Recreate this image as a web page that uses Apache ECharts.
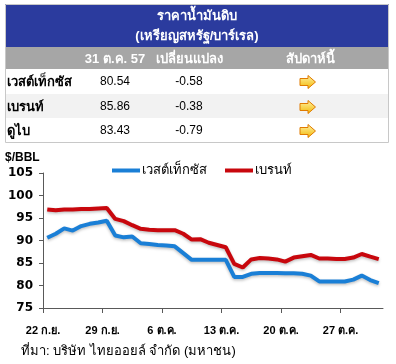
<!DOCTYPE html>
<html>
<head>
<meta charset="utf-8">
<script src="https://cdn.jsdelivr.net/npm/echarts@6/dist/echarts.min.js"></script>
<style>
html,body{margin:0;padding:0;background:#fff;}
#c{width:396px;height:364px;}
</style>
</head>
<body>
<div id="c"></div>
<script>
// ---- data ----
var tableTitle = ['ราคาน้ำมันดิบ', '(เหรียญสหรัฐ/บาร์เรล)'];
var tableHeaders = ['31 ต.ค. 57', 'เปลี่ยนแปลง', 'สัปดาห์นี้'];
var tableNames = ['เวสต์เท็กซัส', 'เบรนท์', 'ดูไบ'];
var tablePrices = ['80.54', '85.86', '83.43'];
var tableChanges = ['-0.58', '-0.38', '-0.79'];

// day offsets from 22 Sep 2014 (daily, calendar)
var days = [0,1,2,3,4,5,6,7,8,9,10,11,12,13,14,15,16,17,18,19,20,21,22,23,24,25,26,27,28,29,30,31,32,33,34,35,36,37,38,39];
var wti = [90.6,91.5,92.7,92.2,93.2,93.7,94.0,94.4,91.1,90.7,90.9,89.4,89.2,89.0,88.9,88.7,87.2,85.7,85.7,85.7,85.7,85.7,81.9,81.9,82.6,82.8,82.8,82.8,82.7,82.7,82.6,82.2,80.9,80.9,80.9,80.9,81.3,82.2,81.2,80.54];
var brent = [96.9,96.7,96.9,96.9,97.0,97.0,97.1,97.2,94.8,94.3,93.4,92.6,92.4,92.3,92.3,92.3,91.5,90.2,90.3,89.5,89.0,88.5,84.8,84.0,85.8,86.1,86.0,85.8,85.3,86.2,86.5,86.8,86.0,86.0,85.9,85.9,86.2,87.0,86.4,85.86];
var seriesNames = ['เวสต์เท็กซัส', 'เบรนท์'];
var xTickDays = [0, 7, 14, 21, 28, 35];
var xTickLabels = ['22 ก.ย.', '29 ก.ย.', '6 ต.ค.', '13 ต.ค.', '20 ต.ค.', '27 ต.ค.'];
var yMin = 75, yMax = 105, yStep = 5;
var yUnit = '$/BBL';
var sourceText = 'ที่มา: บริษัท ไทยออยล์ จำกัด (มหาชน)';

// ---- chart ----
var FONT = 'Tahoma, "Liberation Sans", "Noto Sans", sans-serif';
var chart = echarts.init(document.getElementById('c'), null, {renderer: 'canvas'});

function pts(vals) {
  return days.map(function (d, i) { return [d + 0.5, vals[i]]; });
}

var graphics = [];
graphics.push({type: 'rect', shape: {x: 5, y: 4, width: 384, height: 43}, style: {fill: '#2b3b9e'}, silent: true});
graphics.push({type: 'rect', shape: {x: 5, y: 47, width: 384, height: 22}, style: {fill: '#a6a6a6'}, silent: true});
graphics.push({type: 'rect', shape: {x: 5, y: 94, width: 384, height: 24}, style: {fill: '#f2f2f2'}, silent: true});
graphics.push({type: 'rect', shape: {x: 5.5, y: 4.5, width: 383, height: 138}, style: {fill: null, stroke: '#c8c8c8', lineWidth: 1}, silent: true});
graphics.push({type: 'text', x: 197, y: 16, style: {text: tableTitle[0], fill: '#fff', font: 'bold 13px ' + FONT, align: 'center', verticalAlign: 'middle'}});
graphics.push({type: 'text', x: 197, y: 36, style: {text: tableTitle[1], fill: '#fff', font: 'bold 13px ' + FONT, align: 'center', verticalAlign: 'middle'}});
var colX = [115, 189, 310];
tableHeaders.forEach(function (h, i) {
  graphics.push({type: 'text', x: colX[i], y: 59, style: {text: h, fill: '#fff', font: 'bold 13px ' + FONT, align: 'center', verticalAlign: 'middle'}});
});
var rowY = [82, 107, 131];
tableNames.forEach(function (n, i) {
  graphics.push({type: 'text', x: 7, y: rowY[i], style: {text: n, fill: '#000', font: 'bold 13px ' + FONT, align: 'left', verticalAlign: 'middle'}});
  graphics.push({type: 'text', x: colX[0], y: rowY[i], style: {text: tablePrices[i], fill: '#000', font: '12px ' + FONT, align: 'center', verticalAlign: 'middle'}});
  graphics.push({type: 'text', x: colX[1], y: rowY[i], style: {text: tableChanges[i], fill: '#000', font: '12px ' + FONT, align: 'center', verticalAlign: 'middle'}});
  graphics.push({type: 'polygon', x: 300, y: rowY[i] - 6.5, shape: {points: [[0,3],[8,3],[8,0],[15.5,6.5],[8,13],[8,10],[0,10]]},
    style: {fill: new echarts.graphic.LinearGradient(0, 0, 0, 1, [{offset: 0, color: '#fff3a6'}, {offset: 1, color: '#f2b705'}]), stroke: '#e07b00', lineWidth: 1}});
});
graphics.push({type: 'text', x: 5, y: 158, style: {text: yUnit, fill: '#000', font: 'bold 12px ' + FONT, align: 'left', verticalAlign: 'middle'}});
graphics.push({type: 'text', x: 21, y: 351, style: {text: sourceText, fill: '#000', font: '13px ' + FONT, align: 'left', verticalAlign: 'middle'}});

chart.setOption({
  animation: false,
  backgroundColor: '#fff',
  textStyle: {fontFamily: FONT},
  grid: {left: 43, top: 173, right: 13, bottom: 56, containLabel: false},
  legend: {
    left: 107, top: 159, itemWidth: 28, itemHeight: 4, itemGap: 18, icon: 'rect',
    textStyle: {fontSize: 13, color: '#000', fontFamily: FONT, padding: [0, 0, 0, -3]},
    data: seriesNames
  },
  xAxis: {
    type: 'value', min: 0, max: 40,
    axisLine: {show: true, onZero: false, lineStyle: {color: '#595959', width: 1}},
    axisTick: {show: true, length: 5, customValues: xTickDays, lineStyle: {color: '#595959'}},
    axisLabel: {customValues: xTickDays, margin: 17, color: '#000', fontSize: 11, fontWeight: 'bold', fontFamily: FONT,
      formatter: function (v) { var i = xTickDays.indexOf(v); return i >= 0 ? xTickLabels[i] : ''; }},
    splitLine: {show: false}
  },
  yAxis: {
    type: 'value', min: yMin, max: yMax, interval: yStep,
    axisLine: {show: true, lineStyle: {color: '#595959', width: 1}},
    axisTick: {show: true, length: 4, lineStyle: {color: '#595959'}},
    axisLabel: {color: '#000', fontSize: 12, fontWeight: 'bold', fontFamily: '"DejaVu Sans", sans-serif', margin: 10},
    splitLine: {show: false}
  },
  series: [
    {name: seriesNames[0], type: 'line', data: pts(wti), showSymbol: false, symbol: 'none',
     lineStyle: {color: '#1a7fd6', width: 4, shadowColor: 'rgba(0,0,0,0.25)', shadowBlur: 3, shadowOffsetY: 1.5},
     itemStyle: {color: '#1a7fd6'}},
    {name: seriesNames[1], type: 'line', data: pts(brent), showSymbol: false, symbol: 'none',
     lineStyle: {color: '#c8070d', width: 4, shadowColor: 'rgba(0,0,0,0.25)', shadowBlur: 3, shadowOffsetY: 1.5},
     itemStyle: {color: '#c8070d'}}
  ],
  graphic: graphics
});
</script>
</body>
</html>
